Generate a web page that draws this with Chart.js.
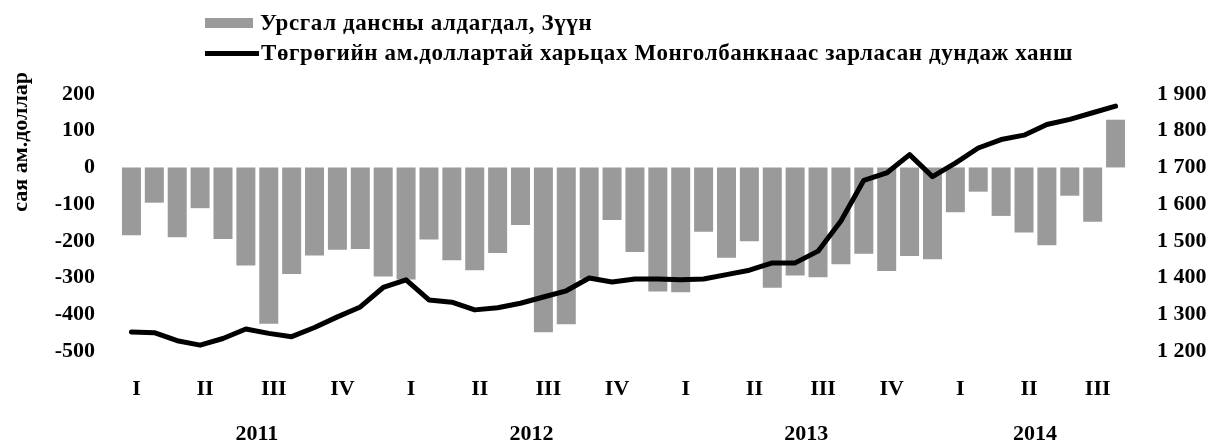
<!DOCTYPE html>
<html>
<head>
<meta charset="utf-8">
<script src="https://cdn.jsdelivr.net/npm/chart.js@4.4.1/dist/chart.umd.min.js"></script>
<style>
    body { margin: 0; background: #fff; }
    #wrap { position: relative; width: 1211px; height: 444px; }
    #legend { position: absolute; left: 205px; top: 8px; font: bold 23px "Liberation Serif", "Times New Roman", serif; letter-spacing: 0.6px; color: #000; }
    .item { display: flex; align-items: center; height: 30px; white-space: nowrap; }
    .swatch { width: 48px; height: 10px; margin-right: 7px; }
    .line-swatch { width: 54px; height: 5px; margin-right: 2px; }
</style>
</head>
<body>
<div id="wrap">
    <canvas id="balanceChart"></canvas>
    <div id="legend"></div>
</div>
<script>
// months 2011-01 .. 2014-08
const months = [
    "2011-01", "2011-02", "2011-03", "2011-04", "2011-05", "2011-06",
    "2011-07", "2011-08", "2011-09", "2011-10", "2011-11", "2011-12",
    "2012-01", "2012-02", "2012-03", "2012-04", "2012-05", "2012-06",
    "2012-07", "2012-08", "2012-09", "2012-10", "2012-11", "2012-12",
    "2013-01", "2013-02", "2013-03", "2013-04", "2013-05", "2013-06",
    "2013-07", "2013-08", "2013-09", "2013-10", "2013-11", "2013-12",
    "2014-01", "2014-02", "2014-03", "2014-04", "2014-05", "2014-06",
    "2014-07", "2014-08"
];

const quarterLabels = ["I", "II", "III", "IV", "I", "II", "III", "IV", "I", "II", "III", "IV", "I", "II", "III"];
const yearLabels = ["2011", "2012", "2013", "2014"];

const leftTicks = [-500, -400, -300, -200, -100, 0, 100, 200];
const rightTicks = [1200, 1300, 1400, 1500, 1600, 1700, 1800, 1900];

// current account deficit, mln USD
const deficit = [
    -185, -96, -190, -111, -195, -267, -426, -290, -240, -224, -222, -297,
    -305, -196, -253, -280, -233, -157, -449, -427, -303, -143, -230, -338,
    -340, -175, -246, -201, -328, -294, -299, -264, -235, -282, -241, -250,
    -122, -66, -132, -177, -212, -77, -148, 130
];

// MNT / USD average rate
const rate = [
    1252, 1250, 1228, 1216, 1234, 1260, 1248, 1239, 1264, 1293, 1320, 1373,
    1394, 1339, 1333, 1312, 1318, 1330, 1347, 1364, 1399, 1388, 1396, 1396,
    1394, 1396, 1408, 1420, 1440, 1440, 1472, 1554, 1665, 1685, 1735, 1675,
    1712, 1753, 1776, 1788, 1817, 1831, 1849, 1867
];

const barLabel = "Урсгал дансны алдагдал, Зүүн";
const lineLabel = "Төгрөгийн ам.доллартай харьцах Монголбанкнаас зарласан дундаж ханш";

// the year name sits in the middle of its months (shifted half a month by labelOffset)
const yearAt = {};
yearLabels.forEach(function (y) {
    const idx = months.map(function (m, i) { return m.indexOf(y) === 0 ? i : -1; }).filter(function (i) { return i >= 0; });
    yearAt[Math.floor((idx[0] + idx[idx.length - 1]) / 2)] = y;
});

const font = { family: '"Liberation Serif", "Times New Roman", serif', size: 22, weight: "bold" };

const chartCanvas = document.getElementById("balanceChart");

const chart = new Chart(chartCanvas, {
    type: "bar",
    data: {
        labels: months,
        datasets: [
            {
                type: "bar",
                label: barLabel,
                data: deficit,
                backgroundColor: "#9a9a9a",
                categoryPercentage: 1,
                barPercentage: 0.83,
                yAxisID: "y",
                order: 1
            },
            {
                type: "line",
                label: lineLabel,
                data: rate,
                borderColor: "#000",
                borderWidth: 5,
                borderJoinStyle: "round",
                borderCapStyle: "round",
                pointRadius: 0,
                tension: 0,
                yAxisID: "y1",
                order: 0
            }
        ]
    },
    options: {
        responsive: true,
        maintainAspectRatio: false,
        animation: false,
        layout: { padding: { top: 72, left: 0, right: 0, bottom: 0 } },
        plugins: {
            legend: { display: false },
            tooltip: { enabled: false }
        },
        scales: {
            x: {
                position: "bottom",
                weight: 0,
                grid: { display: false },
                border: { display: false },
                ticks: {
                    autoSkip: false,
                    maxRotation: 0,
                    padding: 17,
                    labelOffset: 5,
                    font: font,
                    color: "#000",
                    callback: function (v, i) { return i % 3 === 0 ? quarterLabels[i / 3] : ""; }
                },
                afterFit: function (s) { s.height = 54; }
            },
            xYear: {
                type: "category",
                labels: months,
                position: "bottom",
                weight: 1,
                grid: { display: false },
                border: { display: false },
                ticks: {
                    autoSkip: false,
                    maxRotation: 0,
                    padding: 8,
                    labelOffset: 11,
                    font: font,
                    color: "#000",
                    callback: function (v, i) { return yearAt[i] || ""; }
                },
                afterFit: function (s) { s.height = 39; }
            },
            y: {
                position: "left",
                min: -500,
                max: 260,
                grid: { display: false },
                border: { display: false },
                afterBuildTicks: function (s) {
                    s.ticks = leftTicks.map(function (v) { return { value: v }; });
                },
                ticks: { padding: 17, font: font, color: "#000" },
                title: {
                    display: true,
                    text: "сая ам.доллар",
                    align: "end",
                    font: font,
                    color: "#000",
                    padding: { top: 8, bottom: 0 }
                },
                afterFit: function (s) { s.width = 120; }
            },
            y1: {
                position: "right",
                min: 1200,
                max: 1960,
                grid: { display: false },
                border: { display: false },
                afterBuildTicks: function (s) {
                    s.ticks = rightTicks.map(function (v) { return { value: v }; });
                },
                ticks: {
                    padding: 22,
                    font: font,
                    color: "#000",
                    callback: function (v) { return String(v).replace(/\B(?=(\d{3})+(?!\d))/g, " "); }
                },
                afterFit: function (s) { s.width = 84; }
            }
        }
    }
});

// legend stacked on two rows, like the original
const legendBox = document.getElementById("legend");
chart.data.datasets.forEach(function (ds) {
    const row = document.createElement("div");
    row.className = "item";
    const mark = document.createElement("span");
    if (ds.type === "line") {
        mark.className = "line-swatch";
        mark.style.background = ds.borderColor;
    } else {
        mark.className = "swatch";
        mark.style.background = ds.backgroundColor;
    }
    const text = document.createElement("span");
    text.textContent = ds.label;
    row.appendChild(mark);
    row.appendChild(text);
    legendBox.appendChild(row);
});
</script>
</body>
</html>
